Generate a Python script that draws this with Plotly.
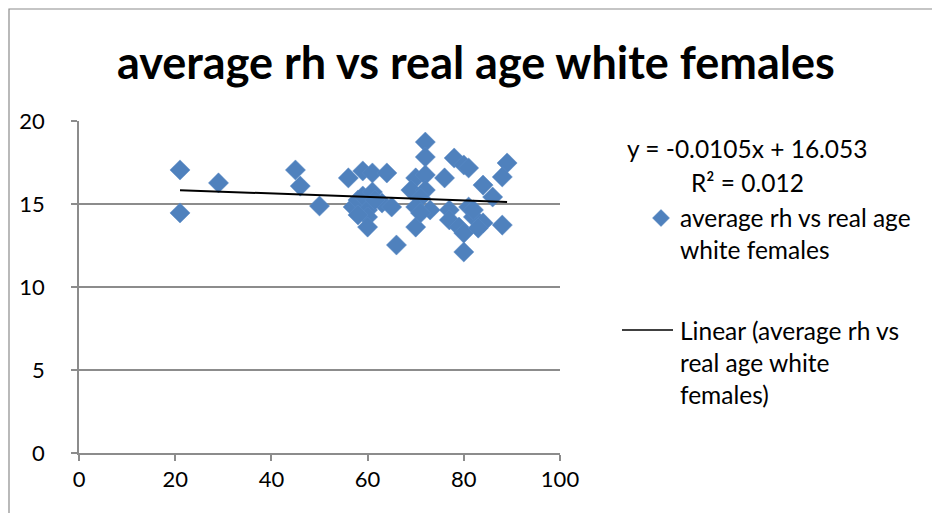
import plotly.graph_objects as go

# Age (years) and average rh for white females
age = [21, 21, 29, 45, 46, 50, 56, 59, 61, 64, 57, 58, 59, 60, 61, 60, 60, 63, 65, 61.5,
       66, 58, 72, 72, 70, 72, 69, 72, 71, 70, 73, 70, 76, 71, 78, 80, 81, 84, 86, 89,
       88, 77, 81, 77, 79, 80, 82, 84, 88, 80, 82, 83]
avg_rh = [17.05, 14.46, 16.27, 17.05, 16.08, 14.88, 16.57, 16.99, 16.87, 16.87, 14.82, 15.24,
          15.48, 14.64, 15.72, 14.22, 13.61, 15.06, 14.82, 15.24, 12.53, 14.34, 18.73, 17.83,
          16.57, 16.75, 15.84, 15.84, 15.36, 14.82, 14.64, 13.61, 16.57, 14.46, 17.77, 17.35,
          17.17, 16.14, 15.42, 17.47, 16.63, 14.64, 14.82, 14.04, 13.61, 13.25, 14.22, 13.86,
          13.73, 12.11, 14.64, 13.55]

# Linear trend line
slope = -0.0105
intercept = 16.053
r_squared = 0.012
trend_x = [min(age), max(age)]
trend_y = [slope * v + intercept for v in trend_x]

x_ticks = [0, 20, 40, 60, 80, 100]
y_ticks = [0, 5, 10, 15, 20]

series_name = "average rh vs real age white females"
FONT = "Lato, Calibri, Carlito, sans-serif"
BLUE = "#4F81BD"
GRID = "#8C8C8C"

fig = go.Figure()
fig.add_trace(go.Scatter(
    x=age, y=avg_rh, mode="markers", name=series_name,
    marker=dict(symbol="diamond", size=15.5, color=BLUE,
                line=dict(color="#5A8AC6", width=0.5)),
    showlegend=False,
))
fig.add_trace(go.Scatter(
    x=trend_x, y=trend_y, mode="lines", name="Linear (" + series_name + ")",
    line=dict(color="black", width=2), showlegend=False,
))

W, H = 932, 513
L, R, T, B = 79, 560, 121, 453


def px(xp):
    return (xp - L) / (R - L)


def py(yp):
    return (B - yp) / (B - T)


# legend diamond sample, centred at (661, 218) in page pixels
cx, cy, hw = 661, 218, 8.5
diamond = (f"M {px(cx)} {py(cy - hw)} L {px(cx + hw)} {py(cy)} "
           f"L {px(cx)} {py(cy + hw)} L {px(cx - hw)} {py(cy)} Z")

shapes = [
    # chart frame
    dict(type="rect", xref="paper", yref="paper", x0=px(9), y0=py(600), x1=px(1000), y1=py(9),
         line=dict(color="#8C8C8C", width=1.2), fillcolor="rgba(0,0,0,0)", layer="below"),
    # legend line sample
    dict(type="line", xref="paper", yref="paper", x0=px(622), x1=px(673), y0=py(330), y1=py(330),
         line=dict(color="black", width=1.5)),
    dict(type="path", xref="paper", yref="paper", path=diamond, fillcolor=BLUE,
         line=dict(color=BLUE, width=0.5)),
]

TXT = 24.5
annotations = [
    dict(text="<b>average rh vs real age white females</b>", x=px(476), y=py(62),
         xref="paper", yref="paper", showarrow=False, xanchor="center", yanchor="middle",
         font=dict(family=FONT, size=45, color="black")),
    dict(text=f"y = {slope}x + {intercept}", x=px(747), y=py(148), xref="paper", yref="paper",
         showarrow=False, xanchor="center", yanchor="middle",
         font=dict(family=FONT, size=TXT, color="black")),
    dict(text=f"R² = {r_squared}", x=px(747), y=py(182), xref="paper", yref="paper",
         showarrow=False, xanchor="center", yanchor="middle",
         font=dict(family=FONT, size=TXT, color="black")),
    dict(text="average rh vs real age<br>white females", x=px(678), y=py(233), xref="paper",
         yref="paper", showarrow=False, xanchor="left", yanchor="middle", align="left",
         font=dict(family=FONT, size=TXT, color="black")),
    dict(text="Linear (average rh vs<br>real age white<br>females)", x=px(678), y=py(362),
         xref="paper", yref="paper", showarrow=False, xanchor="left", yanchor="middle",
         align="left", font=dict(family=FONT, size=TXT, color="black")),
]

fig.update_layout(
    width=W, height=H,
    margin=dict(l=L, r=W - R, t=T, b=H - B),
    paper_bgcolor="white", plot_bgcolor="white",
    font=dict(family=FONT, size=22, color="black"),
    shapes=shapes, annotations=annotations,
    xaxis=dict(range=[0, 100], tickvals=x_ticks, showgrid=False, zeroline=False,
               showline=True, linecolor=GRID, linewidth=1.5, ticks="outside", ticklen=6,
               tickcolor=GRID, tickwidth=1.5, tickfont=dict(family=FONT, size=22, color="black"),
               fixedrange=True),
    yaxis=dict(range=[0, 20], tickvals=y_ticks, showgrid=True, gridcolor=GRID, gridwidth=1.5,
               zeroline=False, showline=True, linecolor=GRID, linewidth=1.5, ticks="outside",
               ticklen=6, tickcolor=GRID, tickwidth=1.5, ticklabelstandoff=22,
               tickfont=dict(family=FONT, size=22, color="black"), fixedrange=True),
)

fig.write_html("out.html")
